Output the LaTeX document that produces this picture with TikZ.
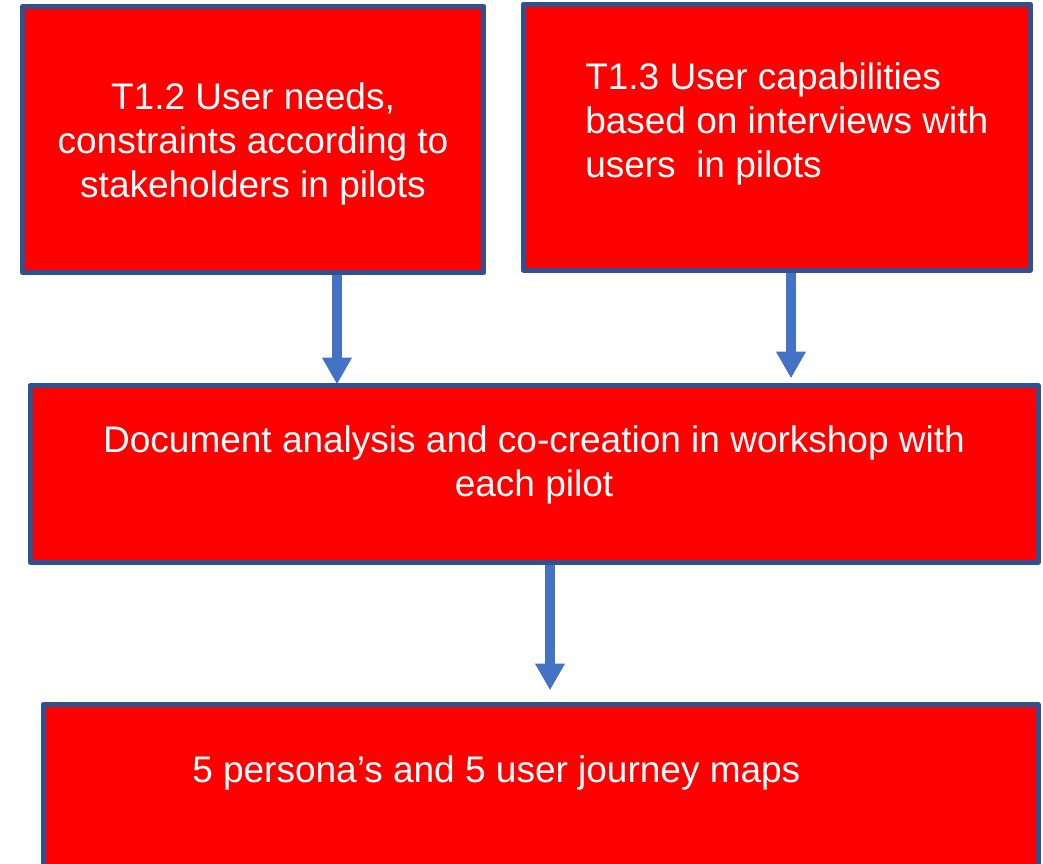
\documentclass[tikz,border=0pt]{standalone}
\usepackage{fontspec}
\setmainfont{Liberation Sans}
\usetikzlibrary{arrows.meta,backgrounds}
\definecolor{boxedge}{HTML}{2F528F}
\definecolor{flowblue}{HTML}{4472C4}
\begin{document}
\begin{tikzpicture}[x=0.75pt,y=-0.75pt,
  stage/.style={draw=boxedge, fill=red, line width=3.75pt, line join=round, rectangle, inner sep=0pt, anchor=center},
  label/.style={text=white, inner sep=0pt, font=\fontsize{27.75pt}{33pt}\selectfont},
  flow/.style={draw=flowblue, line width=7.1pt, -{Triangle[width=21pt,length=20pt]}}]
\clip (0,0) rectangle (1043,864);

% process boxes
\node[stage, minimum width=346.1pt, minimum height=199.5pt] (A) at (253.25,139.5) {};
\node[stage, minimum width=379.9pt, minimum height=199.5pt] (B) at (776.75,137) {};
\node[stage, minimum width=756pt, minimum height=132.4pt] (C) at (534,473.75) {};
\node[stage, minimum width=746.25pt, minimum height=150pt] (D) at (540.5,804.5) {};

% box texts
\node[label, align=center] (tA) at (253,144) {T1.2 User needs,\\constraints according to\\stakeholders in pilots};
\node[label, align=left, anchor=west] (tB) at (585,123.5) {T1.3 User capabilities\\based on interviews with\\users~ in pilots};
\node[label, align=center] (tC) at (534,465) {Document analysis and co-creation in workshop with\\each pilot};
\node[label, anchor=base west] (tD) at (192,782) {5 persona’s and 5 user journey maps};

% arrow columns
\coordinate (c1) at (337,0);
\coordinate (c2) at (791,0);
\coordinate (c3) at (550,0);

\begin{scope}[on background layer]
\draw[flow, shorten >=-1pt] (A.south -| c1) -- (C.north -| c1);
\draw[flow, shorten >=3.5pt] (B.south -| c2) -- (C.north -| c2);
\draw[flow, shorten >=8.8pt] (C.south -| c3) -- (D.north -| c3);
\end{scope}
\end{tikzpicture}
\end{document}
